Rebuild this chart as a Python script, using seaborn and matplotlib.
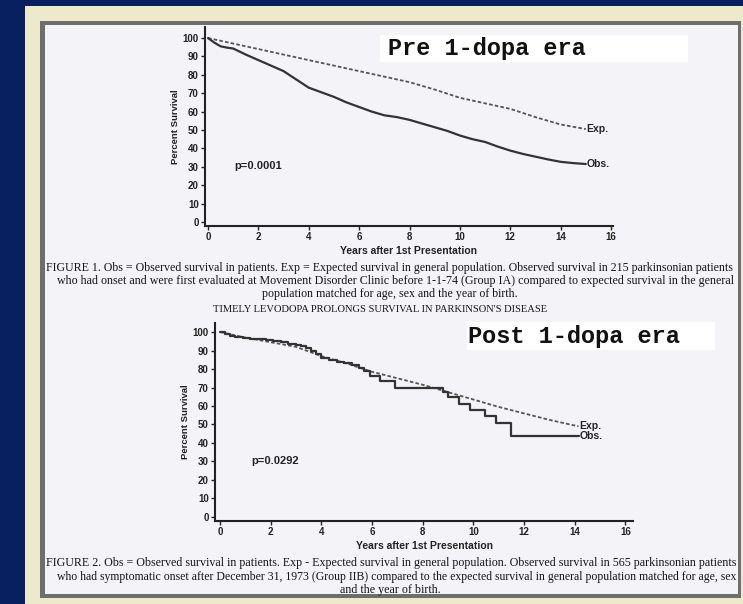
import matplotlib
matplotlib.use("Agg")
import matplotlib.pyplot as plt
import seaborn as sns
import pandas as pd
from matplotlib.patches import Rectangle

# ---------------- data ----------------
pre_obs_years = [0, 0.25, 0.5, 0.75, 1, 1.5, 2, 2.5, 3, 3.5, 4, 4.5, 5, 5.5, 6, 6.5, 7,
                 7.5, 8, 8.5, 9, 9.5, 10, 10.5, 11, 11.5, 12, 12.5, 13, 13.5, 14, 14.5, 15]
pre_obs = [100, 97.5, 95.5, 94.8, 94.3, 91, 88, 85, 82, 77.5, 73, 70.5, 68, 65, 62.5, 60, 58,
           57, 55.5, 53.5, 51.5, 49.5, 47, 45, 43.5, 41, 38.8, 37, 35.5, 34, 32.7, 32, 31.5]
pre_exp_years = [0, 1, 2, 3, 4, 5, 6, 7, 8, 9, 10, 11, 12, 13, 14, 15]
pre_exp = [100, 97, 94, 91, 88, 85, 82, 79, 76, 72, 67.5, 64.5, 61.5, 57, 53, 50.5]

post_obs_years = [0, 0.2, 0.4, 0.6, 0.9, 1.2, 1.5, 1.8, 2.1, 2.4, 2.7, 3.0, 3.2, 3.4, 3.6,
                  3.8, 4.0, 4.3, 4.6, 4.9, 5.2, 5.5, 5.7, 5.9, 6.3, 6.9, 8.8, 9.0, 9.45,
                  9.85, 10.45, 10.9, 11.5, 14.15]
post_obs = [100, 99, 98, 97.5, 97, 96.5, 96, 95.5, 95, 94.5, 93.8, 93, 92.5, 91.5, 90,
            88, 86, 85, 84, 83, 82, 80.5, 79, 76.5, 73.5, 70, 67.5, 65, 61,
            58, 54.6, 50.6, 44, 44]
post_exp_years = [0, 1, 2, 3, 4, 5, 6, 7, 8, 9, 10, 11, 12, 13, 14.15]
post_exp = [100, 97, 94.5, 92, 87, 83, 78.5, 75, 71.5, 67.5, 63.5, 59.5, 56, 52.5, 49]

x_ticks = [0, 2, 4, 6, 8, 10, 12, 14, 16]
y_ticks = [0, 10, 20, 30, 40, 50, 60, 70, 80, 90, 100]

title_pre = "Pre 1-dopa era"
title_post = "Post 1-dopa era"
p_pre = "p=0.0001"
p_post = "p=0.0292"
x_label = "Years after 1st Presentation"
y_label = "Percent Survival"
obs_label = "Obs."
exp_label = "Exp."

caption1 = [
    "FIGURE 1. Obs = Observed survival in patients. Exp = Expected survival in general population. Observed survival in 215 parkinsonian patients",
    "who had onset and were first evaluated at Movement Disorder Clinic before 1-1-74 (Group IA) compared to expected survival in the general",
    "population matched for age, sex and the year of birth.",
]
running_head = "TIMELY LEVODOPA PROLONGS SURVIVAL IN PARKINSON'S DISEASE"
caption2 = [
    "FIGURE 2. Obs = Observed survival in patients. Exp - Expected survival in general population. Observed survival in 565 parkinsonian patients",
    "who had symptomatic onset after December 31, 1973 (Group IIB) compared to the expected survival in general population matched for age, sex",
    "and the year of birth.",
]

# ---------------- figure ----------------
W, H, DPI = 743, 604, 100
sns.set_theme(style="white")
plt.rcParams["font.family"] = ["Liberation Sans", "DejaVu Sans"]

NAVY = "#08205f"
CREAM = "#eceacb"
FRAME = "#6e6e6e"
PANEL = "#f4f3f8"
INK = "#222222"

fig = plt.figure(figsize=(W / DPI, H / DPI), dpi=DPI, facecolor=NAVY)


def fx(x):
    return x / W


def fy(y):
    return 1 - y / H


def rect(x0, y0, x1, y1, color, z=0):
    fig.patches.append(Rectangle((fx(x0), fy(y1)), fx(x1) - fx(x0), fy(y0) - fy(y1),
                                 transform=fig.transFigure, facecolor=color,
                                 edgecolor="none", zorder=z))


rect(25, 6, 743, 604, CREAM, -5)
rect(40, 21, 741, 598, FRAME, -4)
rect(45, 25, 738, 594, PANEL, -3)
rect(380, 35, 688, 62, "white", -2)
rect(467, 322, 715, 350, "white", -2)

renderer = fig.canvas.get_renderer()


def fit_text(s, x0, x1, y, ha="left", size=None, **kw):
    base = 7.0
    xpos = x0 if ha == "left" else (x0 + x1) / 2
    t = fig.text(fx(xpos), fy(y), s, ha=ha, va="center", fontsize=base, zorder=5, **kw)
    if size is None:
        w = t.get_window_extent(renderer).width
        size = base * (x1 - x0) / w
    t.set_fontsize(size)
    return size


def make_axes(box):
    x0, y0, x1, y1 = box
    ax = fig.add_axes([fx(x0), fy(y1), fx(x1) - fx(x0), fy(y0) - fy(y1)])
    ax.set_zorder(2)
    ax.set_facecolor("none")
    ax.patch.set_alpha(0)
    return ax


def style_axes(ax, xlim, ylim):
    ax.set_xlim(*xlim)
    ax.set_ylim(*ylim)
    for s in ["top", "right"]:
        ax.spines[s].set_visible(False)
    for s in ["left", "bottom"]:
        ax.spines[s].set_color(INK)
        ax.spines[s].set_linewidth(1.5)
    ax.set_xticks(x_ticks)
    ax.set_yticks(y_ticks)
    ax.tick_params(axis="both", direction="out", length=3, width=1, color=INK,
                   labelsize=7, pad=1.5, labelcolor=INK, bottom=True, left=True)
    for lab in ax.get_xticklabels() + ax.get_yticklabels():
        lab.set_fontweight("bold")
    ax.set_xlabel(x_label, fontsize=7.5, fontweight="bold", color=INK, labelpad=2.5)
    ax.set_ylabel(y_label, fontsize=6.8, fontweight="bold", color=INK, labelpad=2)
    ax.grid(False)


def draw(ax, xo, yo, xe, ye, steps, ptxt, pxy):
    dfo = pd.DataFrame({"x": xo, "y": yo})
    dfe = pd.DataFrame({"x": xe, "y": ye})
    kw = {"drawstyle": "steps-post"} if steps else {}
    sns.lineplot(data=dfe, x="x", y="y", ax=ax, color="#555555", linewidth=1.3,
                 linestyle=(0, (2, 1.2)), sort=False)
    sns.lineplot(data=dfo, x="x", y="y", ax=ax, color="#333333", linewidth=1.6,
                 sort=False, **kw)
    ax.text(xe[-1] + 0.03, ye[-1], exp_label, fontsize=7.5, fontweight="bold",
            color=INK, ha="left", va="center")
    ax.text(xo[-1] + 0.03, yo[-1], obs_label, fontsize=7.5, fontweight="bold",
            color=INK, ha="left", va="center")
    ax.text(pxy[0], pxy[1], ptxt, fontsize=8, fontweight="bold", color=INK,
            ha="left", va="center")


ax1 = make_axes((205, 27, 613, 226))
draw(ax1, pre_obs_years, pre_obs, pre_exp_years, pre_exp, False, p_pre, (1.05, 30.5))
style_axes(ax1, (-0.12, 16.08), (-2.2, 106))

ax2 = make_axes((215, 323, 633, 521))
draw(ax2, post_obs_years, post_obs, post_exp_years, post_exp, True, p_post, (1.25, 30))
style_axes(ax2, (-0.2, 16.3), (-2.2, 104.9))

mono = dict(family=["Liberation Mono", "DejaVu Sans Mono"], fontweight="bold", color="#111111")
fit_text(title_pre, 388, 587, 48.5, **mono)
fit_text(title_post, 468, 682, 336, **mono)

serif = dict(family=["Liberation Serif", "DejaVu Serif"], color="#151515")
s1 = fit_text(caption1[0], 46, 737, 268, **serif)
fit_text(caption1[1], 57, 737, 281, **serif)
fit_text(caption1[2], 390, 390, 294, ha="center", size=s1, **serif)
fit_text(running_head, 213, 548, 309, ha="center", **serif)
s2 = fit_text(caption2[0], 46, 740, 563, **serif)
fit_text(caption2[1], 57, 740, 577, **serif)
fit_text(caption2[2], 390, 390, 590, ha="center", size=s2, **serif)

fig.savefig("out.png", dpi=DPI, facecolor=NAVY)
